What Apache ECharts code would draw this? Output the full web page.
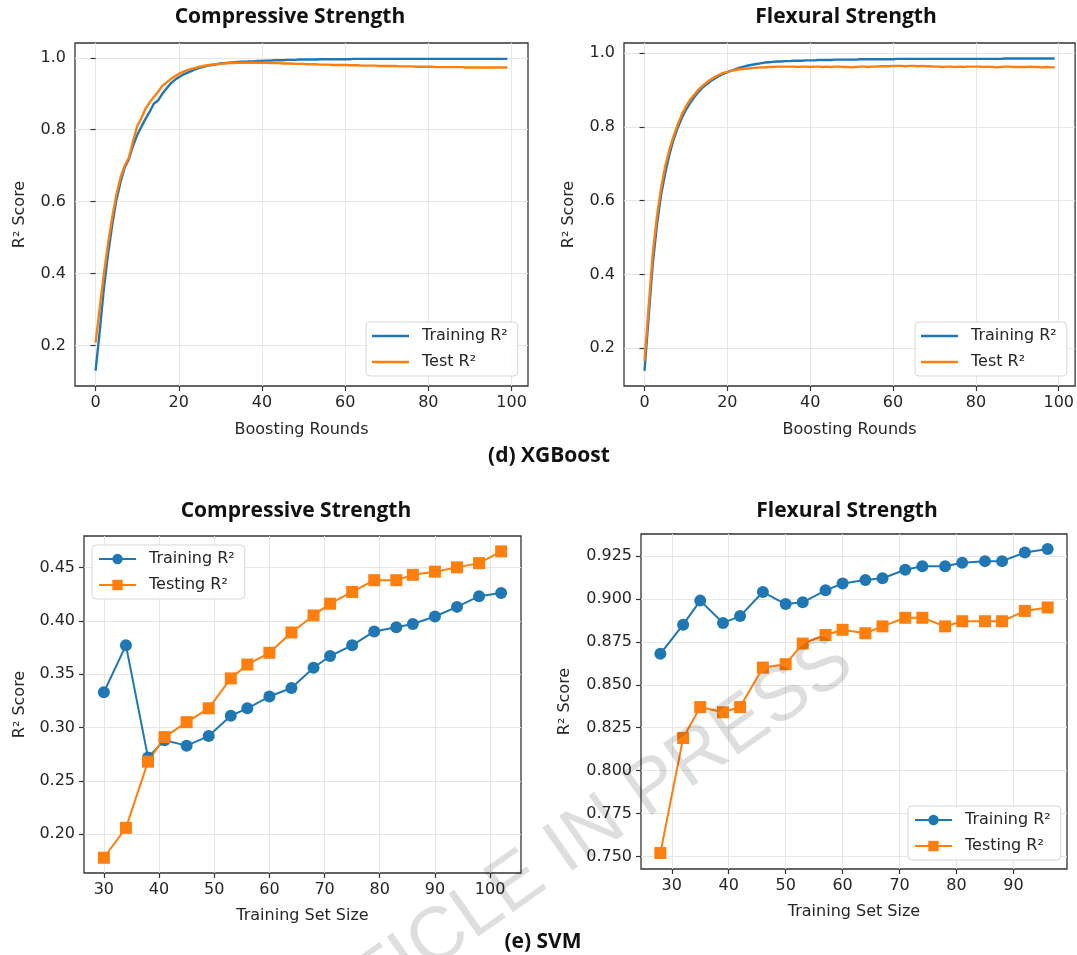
<!DOCTYPE html>
<html>
<head>
<meta charset="utf-8">
<title>R2 learning curves</title>
<script src="https://cdn.jsdelivr.net/npm/echarts@6/dist/echarts.min.js"></script>
<style>
  html,body{margin:0;padding:0;background:#fff;}
  #chart{width:1077px;height:955px;}
</style>
</head>
<body>
<div id="chart"></div>
<script>
  // XGBoost, R2 per boosting round (round = index 0..99)
  var xgbCsTrain=[0.130,0.240,0.360,0.455,0.535,0.605,0.655,0.695,0.718,0.755,
    0.785,0.808,0.830,0.850,0.872,0.881,0.899,0.914,0.928,0.938,
    0.946,0.953,0.958,0.963,0.968,0.972,0.975,0.978,0.980,0.982,
    0.984,0.985,0.986,0.987,0.988,0.989,0.989,0.990,0.990,0.991,
    0.991,0.992,0.992,0.993,0.993,0.993,0.994,0.994,0.994,0.995,
    0.995,0.995,0.995,0.995,0.996,0.996,0.996,0.996,0.996,0.996,
    0.996,0.996,0.997,0.997,0.997,0.997,0.997,0.997,0.997,0.997,
    0.997,0.997,0.997,0.997,0.997,0.997,0.997,0.997,0.997,0.997,
    0.997,0.997,0.997,0.997,0.997,0.997,0.997,0.997,0.997,0.997,
    0.997,0.997,0.997,0.997,0.997,0.997,0.997,0.997,0.997,0.997];
  var xgbCsTest=[0.208,0.305,0.400,0.484,0.556,0.619,0.668,0.700,0.722,0.768,
    0.810,0.832,0.858,0.876,0.891,0.905,0.921,0.931,0.940,0.948,
    0.955,0.961,0.965,0.969,0.972,0.975,0.977,0.979,0.981,0.982,
    0.983,0.984,0.985,0.985,0.986,0.986,0.986,0.986,0.986,0.986,
    0.986,0.986,0.985,0.985,0.985,0.984,0.984,0.984,0.983,0.983,
    0.983,0.982,0.982,0.982,0.981,0.981,0.981,0.980,0.980,0.980,
    0.980,0.979,0.979,0.979,0.978,0.978,0.978,0.978,0.977,0.977,
    0.977,0.977,0.977,0.976,0.976,0.976,0.976,0.975,0.975,0.975,
    0.975,0.975,0.974,0.974,0.974,0.974,0.974,0.974,0.974,0.973,
    0.973,0.973,0.973,0.973,0.973,0.973,0.973,0.973,0.973,0.973];
  var xgbFsTrain=[0.139,0.286,0.430,0.534,0.616,0.674,0.724,0.765,0.797,0.824,
    0.846,0.864,0.880,0.894,0.906,0.915,0.924,0.931,0.938,0.943,
    0.948,0.952,0.956,0.960,0.963,0.966,0.968,0.970,0.972,0.974,
    0.975,0.976,0.977,0.977,0.978,0.978,0.979,0.979,0.979,0.980,
    0.980,0.980,0.981,0.981,0.981,0.981,0.982,0.982,0.982,0.982,
    0.982,0.982,0.983,0.983,0.983,0.983,0.983,0.983,0.983,0.983,
    0.983,0.984,0.984,0.984,0.984,0.984,0.984,0.984,0.984,0.984,
    0.984,0.984,0.984,0.984,0.984,0.984,0.984,0.984,0.984,0.984,
    0.984,0.984,0.984,0.984,0.984,0.984,0.984,0.985,0.985,0.985,
    0.985,0.985,0.985,0.985,0.985,0.985,0.985,0.985,0.985,0.985];
  var xgbFsTest=[0.166,0.313,0.458,0.557,0.634,0.693,0.738,0.774,0.806,0.833,
    0.855,0.873,0.887,0.900,0.911,0.920,0.928,0.935,0.941,0.946,
    0.949,0.952,0.954,0.956,0.957,0.958,0.959,0.960,0.961,0.961,
    0.962,0.962,0.963,0.963,0.963,0.963,0.963,0.962,0.963,0.963,
    0.962,0.963,0.963,0.962,0.963,0.962,0.963,0.963,0.962,0.962,
    0.961,0.962,0.963,0.963,0.962,0.963,0.963,0.964,0.964,0.964,
    0.965,0.965,0.965,0.964,0.965,0.965,0.964,0.965,0.964,0.964,
    0.963,0.963,0.962,0.963,0.963,0.962,0.963,0.962,0.963,0.963,
    0.963,0.963,0.962,0.963,0.962,0.961,0.962,0.963,0.963,0.962,
    0.962,0.962,0.962,0.963,0.962,0.962,0.961,0.962,0.961,0.961];

  // SVM learning curves
  var svmCsSize=[30,34,38,41,45,49,53,56,60,64,68,71,75,79,83,86,90,94,98,102];
  var svmCsTrain=[0.333,0.377,0.272,0.288,0.283,0.292,0.311,0.318,0.329,0.337,0.356,0.367,0.377,0.390,0.394,0.397,0.404,0.413,0.423,0.426];
  var svmCsTest=[0.178,0.206,0.268,0.291,0.305,0.318,0.346,0.359,0.370,0.389,0.405,0.416,0.427,0.438,0.438,0.443,0.446,0.450,0.454,0.465];
  var svmFsSize=[28,32,35,39,42,46,50,53,57,60,64,67,71,74,78,81,85,88,92,96];
  var svmFsTrain=[0.868,0.885,0.899,0.886,0.890,0.904,0.897,0.898,0.905,0.909,0.911,0.912,0.917,0.919,0.919,0.921,0.922,0.922,0.927,0.929];
  var svmFsTest=[0.752,0.819,0.837,0.834,0.837,0.860,0.862,0.874,0.879,0.882,0.880,0.884,0.889,0.889,0.884,0.887,0.887,0.887,0.893,0.895];

  // tick labels
  var roundTicks=[0,20,40,60,80,100];
  var xgbYTicks=[0.2,0.4,0.6,0.8,1.0];
  var csSizeTicks=[30,40,50,60,70,80,90,100];
  var fsSizeTicks=[30,40,50,60,70,80,90];
  var csYTicks=[0.20,0.25,0.30,0.35,0.40,0.45];
  var fsYTicks=[0.750,0.775,0.800,0.825,0.850,0.875,0.900,0.925];

  var BLUE='#1f77b4',ORANGE='#ff7f0e',INK='#262626';
  var FONT='DejaVu Sans';

  var pairs=function(xs,ys){
    return ys.map(function(v,i){ return [xs?xs[i]:i, v]; });
  };

  var makeAxis=function(grid,min,max,ticks,digits,name,gap){
    return {
      type:'value',gridIndex:grid,min:min,max:max,
      name:name,nameLocation:'middle',nameGap:gap,
      nameTextStyle:{fontFamily:FONT,fontSize:16,color:INK},
      axisLine:{show:false},
      axisTick:{show:true,length:5,customValues:ticks,lineStyle:{color:'#333',width:1.2}},
      axisLabel:{customValues:ticks,margin:9,fontFamily:FONT,fontSize:16,color:INK,
        formatter:function(v){ return Number(v).toFixed(digits); }},
      splitLine:{show:true,lineStyle:{color:'#e6e6e6',width:1}}
    };
  };

  var grids=[
    {left:75,top:43,width:453,height:343},
    {left:624,top:43,width:452,height:343},
    {left:84,top:536,width:437,height:337},
    {left:641,top:534,width:426,height:335}
  ];
  grids.forEach(function(g){
    g.show=true; g.borderColor='#333'; g.borderWidth=1.3; g.backgroundColor='transparent';
  });

  var legendBase=function(data,left,top,plain){
    var lg={
      data:data,orient:'vertical',left:left,top:top,
      itemWidth:37,itemHeight:13,itemGap:8,
      padding:[5,10,5,6],
      backgroundColor:'rgba(255,255,255,0.85)',
      borderColor:'#d6d6d6',borderWidth:1,borderRadius:4,
      textStyle:{fontFamily:FONT,fontSize:16,color:INK,lineHeight:18,padding:[0,0,0,8]},
      formatter:function(n){ return n.replace('SVM ',''); }
    };
    // plain line swatch for the xgboost panels
    if(plain){ lg.icon='rect'; lg.itemHeight=2.5; }
    return lg;
  };

  var lineSeries=function(name,grid,data,color,symbol){
    return {
      name:name,type:'line',xAxisIndex:grid,yAxisIndex:grid,data:data,
      lineStyle:{color:color,width:symbol?2:2.4},itemStyle:{color:color},
      symbol:symbol||'none',symbolSize:12,showSymbol:!!symbol,
      silent:true,z:3
    };
  };

  var titleText=function(text,x,y,size){
    return {type:'text',x:x,y:y,style:{text:text,align:'center',verticalAlign:'middle',
      fontFamily:'Open Sans',fontWeight:'bold',fontSize:size||21,fill:'#111'}};
  };

  var chart=echarts.init(document.getElementById('chart'),null,{renderer:'canvas'});
  chart.setOption({
    animation:false,
    backgroundColor:'#fff',
    grid:grids,
    xAxis:[
      makeAxis(0,-4.95,103.95,roundTicks,0,'Boosting Rounds',36),
      makeAxis(1,-4.95,103.95,roundTicks,0,'Boosting Rounds',36),
      makeAxis(2,26.4,105.6,csSizeTicks,0,'Training Set Size',35),
      makeAxis(3,24.6,99.4,fsSizeTicks,0,'Training Set Size',35)
    ],
    yAxis:[
      makeAxis(0,0.0876,1.041,xgbYTicks,1,'R² Score',47),
      makeAxis(1,0.098,1.027,xgbYTicks,1,'R² Score',47),
      makeAxis(2,0.1637,0.4794,csYTicks,2,'R² Score',56),
      makeAxis(3,0.7427,0.9378,fsYTicks,3,'R² Score',68)
    ],
    legend:[
      legendBase(['Training R²','Test R²'],366,322,true),
      legendBase(['Training R²','Test R²'],915,322,true),
      legendBase(['SVM Training R²','SVM Testing R²'],92,545),
      legendBase(['SVM Training R²','SVM Testing R²'],908,806)
    ],
    series:[
      lineSeries('Training R²',0,pairs(null,xgbCsTrain),BLUE),
      lineSeries('Test R²',0,pairs(null,xgbCsTest),ORANGE),
      lineSeries('Training R²',1,pairs(null,xgbFsTrain),BLUE),
      lineSeries('Test R²',1,pairs(null,xgbFsTest),ORANGE),
      lineSeries('SVM Training R²',2,pairs(svmCsSize,svmCsTrain),BLUE,'circle'),
      lineSeries('SVM Testing R²',2,pairs(svmCsSize,svmCsTest),ORANGE,'rect'),
      lineSeries('SVM Training R²',3,pairs(svmFsSize,svmFsTrain),BLUE,'circle'),
      lineSeries('SVM Testing R²',3,pairs(svmFsSize,svmFsTest),ORANGE,'rect')
    ],
    graphic:[
      titleText('Compressive Strength',290,17),
      titleText('Flexural Strength',846,17),
      titleText('(d) XGBoost',549,456),
      titleText('Compressive Strength',296,511),
      titleText('Flexural Strength',847,511),
      titleText('(e) SVM',543,942),
      {type:'text',x:867,y:685,rotation:35*Math.PI/180,silent:true,z:100,
        style:{text:'ARTICLE IN PRESS',align:'right',verticalAlign:'bottom',
          fontFamily:'Liberation Sans',fontSize:76,fill:'rgba(0,0,0,0.13)'}}
    ]
  });
</script>
</body>
</html>
